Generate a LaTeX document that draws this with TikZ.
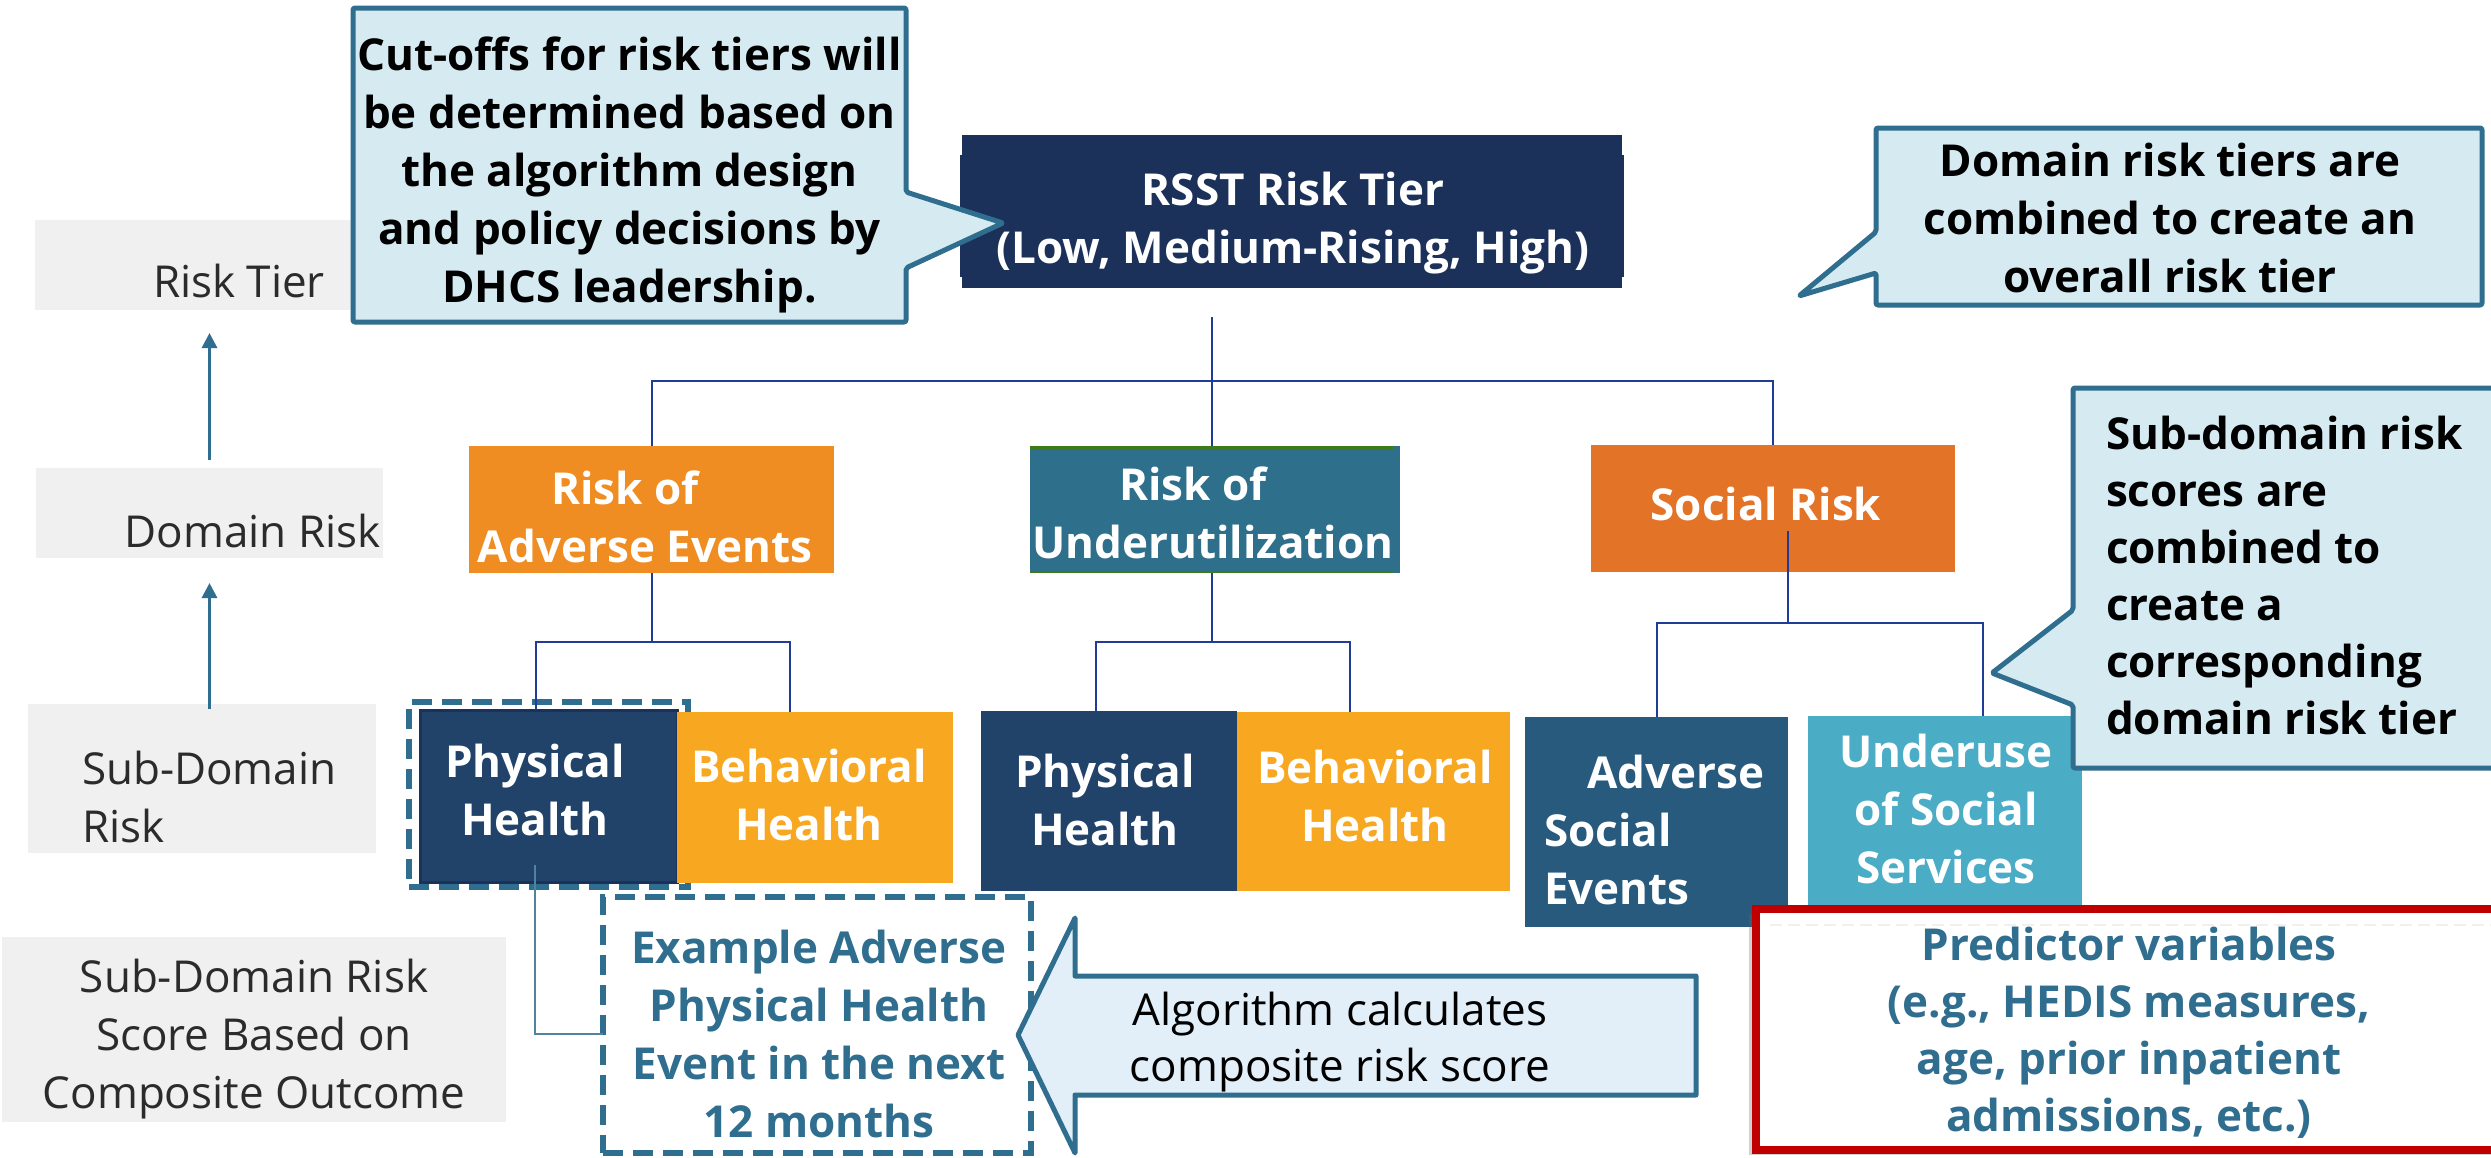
\documentclass[tikz,border=0pt]{standalone}
\usepackage{fontspec}
\setmainfont{Open Sans}
\usetikzlibrary{arrows.meta,shadows}
\definecolor{cfill}{HTML}{D6EAF2}
\definecolor{cline}{HTML}{2F6E8E}
\definecolor{navy}{HTML}{1B3159}
\definecolor{phys}{HTML}{21436A}
\definecolor{orgA}{HTML}{EF8C22}
\definecolor{undc}{HTML}{2E6F8C}
\definecolor{orgS}{HTML}{E37326}
\definecolor{behv}{HTML}{F8A720}
\definecolor{advs}{HTML}{275A7D}
\definecolor{usec}{HTML}{4BACC6}
\definecolor{grayb}{HTML}{F0F0F0}
\definecolor{treec}{HTML}{1F3C96}
\definecolor{afill}{HTML}{E2EFF8}
\definecolor{redb}{HTML}{C00000}
\definecolor{labc}{HTML}{2B2B2B}
\definecolor{grnl}{HTML}{3C7A1A}
\newcommand\myfs{\fontsize{44}{58}\selectfont}
\newcommand\myfsb{\fontsize{44}{57}\selectfont}
\newcommand\myfsc{\fontsize{44}{56}\selectfont}
\begin{document}
\begin{tikzpicture}[x=1pt,y=-1pt,
  rbox/.style={rectangle,inner sep=0pt,outer sep=0pt},
  txt/.style={inner sep=0pt,outer sep=0pt,align=center,anchor=north,font=\myfs},
  btxt/.style={txt,font=\myfs\bfseries},
  lab/.style={txt,text=labc},
  wtxt/.style={btxt,text=white},
  tree/.style={draw=treec,line width=2pt},
  link/.style={draw=cline!85,line width=1.6pt},
  callout/.style={fill=cfill,draw=cline,line width=5pt,line join=round,rounded corners=2pt},
  uparrow/.style={draw=cline,line width=3pt,-{Triangle[length=15pt,width=15pt]}},
  dashbox/.style={draw=cline,line width=6pt,dash pattern=on 20pt off 10pt}
]
\fill[white] (0,0) rectangle (2491,1157);
\useasboundingbox (0,0) rectangle (2491,1157);

% left level labels
\node[rbox,fill=grayb,minimum width=410pt,minimum height=90pt] (rt) at (240,265) {};
\node[rbox,fill=grayb,minimum width=347pt,minimum height=90pt] (dr) at (209.5,513) {};
\node[rbox,fill=grayb,minimum width=348pt,minimum height=149pt] (sdr) at (202,778.5) {};
\node[rbox,fill=grayb,minimum width=504pt,minimum height=185pt] (sds) at (254,1029.5) {};
\node[lab] (trt) at (239,256.4) {\strut Risk Tier\strut};
\node[lab] (tdr) at (252.5,506.4) {\strut Domain Risk\strut};
\node[lab,align=left,anchor=north west] (tsdr) at (82,743.4) {\strut Sub-Domain\\Risk\strut};
\node[lab] (tsds) at (254,951.4) {\strut Sub-Domain Risk\\Score Based on\\Composite Outcome\strut};
\draw[uparrow] ([yshift=-5pt]dr.south |- sdr.north) -- ([yshift=-25pt]dr.south);
\draw[uparrow] ([yshift=8pt]dr.north) -- ([yshift=-23pt]dr.north |- rt.south);

% top tier
\node[rbox,fill=navy,minimum width=660pt,minimum height=153pt] (rsst) at (1292,211.5) {};
\fill[navy] ([xshift=-2pt,yshift=-20pt]rsst.north west) rectangle ([xshift=2pt,yshift=11pt]rsst.south east);
\node[wtxt] (trsst) at (1293,164.4) {\strut RSST Risk Tier\\(Low, Medium-Rising, High)\strut};

% callout 1
\path[callout] (353,8) -- (906,8) -- (906,192) -- (1003,223) -- (906,268) -- (906,322) -- (353,322) -- cycle;
\node[btxt] (tc1) at (629.5,29.4) {\strut Cut-offs for risk tiers will\\be determined based on\\the algorithm design\\and policy decisions by\\DHCS leadership.\strut};

% domain boxes
\node[rbox,fill=orgA,minimum width=365pt,minimum height=127pt] (adv) at (651.5,509.5) {};
\node[rbox,fill=undc,minimum width=370pt,minimum height=127pt] (und) at (1215,509.5) {};
\draw[grnl,line width=4pt] ([yshift=-2pt]und.north west) -- ([xshift=-6pt,yshift=-2pt]und.north east);
\draw[grnl,line width=2pt] ([yshift=1pt]und.south west) -- ([xshift=-6pt,yshift=1pt]und.south east);
\node[rbox,fill=orgS,minimum width=364pt,minimum height=127pt] (soc) at (1773,508.5) {};
\node[wtxt] (tadv) at (645,463.4) {\strut\hspace*{-40pt}Risk of\\Adverse Events\strut};
\node[wtxt] (tund) at (1213,459.4) {\strut\hspace*{-40pt}Risk of\\Underutilization\strut};
\node[wtxt] (tsoc) at (1766,479.4) {\strut Social Risk\strut};

% sub-domain boxes
\node[rbox,dashbox,minimum width=279pt,minimum height=185pt] (ph1o) at (548.5,794.5) {};
\node[rbox,fill=phys,draw=navy,line width=3pt,minimum width=257pt,minimum height=172pt] (ph1) at (548.5,796) {};
\node[rbox,fill=behv,minimum width=276pt,minimum height=171pt] (bh1) at (815,797.5) {};
\node[rbox,fill=phys,minimum width=256pt,minimum height=180pt] (ph2) at (1109,801) {};
\node[rbox,fill=behv,minimum width=273pt,minimum height=179pt] (bh2) at (1373.5,801.5) {};
\node[rbox,fill=advs,minimum width=263pt,minimum height=210pt] (ase) at (1656.5,822) {};
\node[rbox,fill=usec,minimum width=274pt,minimum height=214pt] (uss) at (1945,823) {};
\node[wtxt] (tph1) at (535,736.4) {\strut Physical\\Health\strut};
\node[wtxt] (tbh1) at (809,741.4) {\strut Behavioral\\Health\strut};
\node[wtxt] (tph2) at (1105,746.4) {\strut Physical\\Health\strut};
\node[wtxt] (tbh2) at (1375,742.4) {\strut Behavioral\\Health\strut};
\node[wtxt,align=left,anchor=north west] (tase) at (1544,747.4) {\strut\hspace*{43pt}Adverse\\Social\\Events\strut};
\node[wtxt] (tuss) at (1946,726.4) {\strut Underuse\\of Social\\Services\strut};

% tree connectors
\coordinate (r0) at (1212,317);
\coordinate (j1) at (1212,381);
\draw[tree] (r0) -- (j1);
\draw[tree] (adv.north) |- (j1) -| (soc.north);
\draw[tree] (j1) -- (j1 |- und.north);
\coordinate (j2) at (651.5,642);
\coordinate (k1) at (536,642);
\coordinate (k2) at (790,642);
\draw[tree] (adv.south) -- (j2);
\draw[tree] (k1 |- ph1.north) -- (k1) -- (k2) -- (k2 |- bh1.north);
\coordinate (j3) at (1212,642);
\coordinate (k3) at (1096,642);
\coordinate (k4) at (1350,642);
\draw[tree] (j3 |- und.south) -- (j3);
\draw[tree] (k3 |- ph2.north) -- (k3) -- (k4) -- (k4 |- bh2.north);
\coordinate (s0) at (1788,531);
\coordinate (j4) at (1788,623);
\coordinate (k5) at (1657,623);
\coordinate (k6) at (1983,623);
\draw[tree] (s0) -- (j4);
\draw[tree] (k5 |- ase.north) -- (k5) -- (k6) -- (k6 |- uss.north);

% example outcome
\node[rbox,fill=white,dashbox,minimum width=428pt,minimum height=256pt] (ex) at (817,1025) {};
\node[btxt,text=cline] (tex) at (819,922.4) {\strut Example Adverse\\Physical Health\\Event in the next\\12 months\strut};
\coordinate (l0) at (535,865);
\draw[link] (l0) |- ([yshift=-9pt]ex.west);

% algorithm arrow
\path[fill=afill,draw=cline,line width=5pt,line join=round] (1018,1035) -- (1075,918) -- (1075,976) -- (1696,976) -- (1696,1095) -- (1075,1095) -- (1075,1153) -- cycle;
\node[txt,font=\myfsc] (tarr) at (1340,985.8) {\strut Algorithm calculates\\composite risk score\strut};

% predictor variables
\node[rbox,fill=white,draw=redb,line width=8pt,minimum width=744pt,minimum height=241pt,
  drop shadow={shadow xshift=-7pt,shadow yshift=-5pt,fill=black!60,opacity=.3}] (pred) at (2128,1029.5) {};
\draw[black!6,line width=2pt,dash pattern=on 12pt off 6pt] ([xshift=14pt,yshift=-16pt]pred.north west) -- ([yshift=-16pt]pred.north east);
\node[btxt,font=\myfsb\bfseries,text=cline] (tpred) at (2129,920.1) {\strut Predictor variables\\(e.g., HEDIS measures,\\age, prior inpatient\\admissions, etc.)\strut};

% callout 2
\path[callout] (1876,128) -- (2482,128) -- (2482,305) -- (1876,305) -- (1876,273) -- (1799,296) -- (1876,232) -- cycle;
\node[btxt] (tc2) at (2170,135.4) {\strut Domain risk tiers are\\combined to create an\\overall risk tier\strut};

% callout 3
\path[callout] (2073,388) -- (2510,388) -- (2510,768) -- (2073,768) -- (2073,705) -- (1992,673) -- (2073,610) -- cycle;
\node[btxt,font=\myfsb\bfseries,align=left,anchor=north west] (tc3) at (2106,409.1) {\strut Sub-domain risk\\scores are\\combined to\\create a\\corresponding\\domain risk tier\strut};
\end{tikzpicture}
\end{document}
